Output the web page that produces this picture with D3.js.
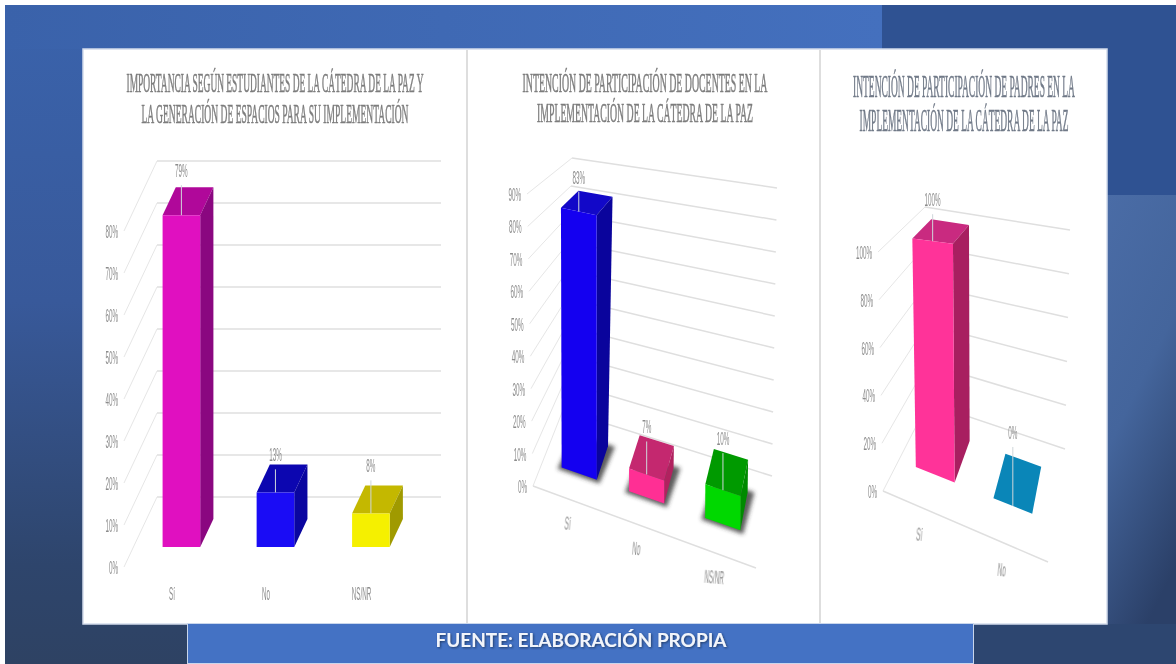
<!DOCTYPE html>
<html>
<head>
<meta charset="utf-8">
<script src="https://d3js.org/d3.v7.min.js"></script>
<style>
  html, body { margin: 0; padding: 0; background: #fff; }
  svg { display: block; }
</style>
</head>
<body>
<div id="chart"></div>
<script>
// data
var titlesEstudiantes = ["IMPORTANCIA SEGÚN ESTUDIANTES DE LA CÁTEDRA DE LA PAZ Y", "LA GENERACIÓN DE ESPACIOS PARA SU IMPLEMENTACIÓN"];
var titlesDocentes = ["INTENCIÓN DE PARTICIPACIÓN DE DOCENTES EN LA", "IMPLEMENTACIÓN DE LA CÁTEDRA DE LA PAZ"];
var titlesPadres = ["INTENCIÓN DE PARTICIPACIÓN DE PADRES EN LA", "IMPLEMENTACIÓN DE LA CÁTEDRA DE LA PAZ"];

var catsEstudiantes = ["Sí", "No", "NS/NR"];
var catsDocentes = ["Sí", "No", "NS/NR"];
var catsPadres = ["Sí", "No"];

var valuesEstudiantes = [79, 13, 8];
var valuesDocentes = [83, 7, 10];
var valuesPadres = [100, 0];

var maxEstudiantes = 80, stepEstudiantes = 10;
var maxDocentes = 90, stepDocentes = 10;
var maxPadres = 100, stepPadres = 20;

var footerText = "FUENTE: ELABORACIÓN PROPIA";

// layout of each 3D frame: box corners as [x, y], named front/back left/right, at floor and at top of axis
var charts = [
  {
    titles: titlesEstudiantes, cats: catsEstudiantes, values: valuesEstudiantes,
    max: maxEstudiantes, step: stepEstudiantes,
    titleX: 275, titleY: [92, 123], titleW: [297, 267], titleSize: 27, titleColor: "#7d7d7d",
    floor: { fl: [124, 567], fr: [408, 567], bl: [157, 497], br: [441, 497] },
    top: { fl: [124, 231], fr: [408, 231], bl: [157, 161], br: [441, 161] },
    range: [0, 1], padIn: 0.6, padOut: 0.31, nudge: [0, 0, 0.005],
    depth: [0.286, 0.686], frontLine: false,
    catOff: [0, 33], catRot: 0,
    labelDy: [45, 38, 48],
    colors: [["#e010c0", "#b0089a", "#8a0780"], ["#1a0cf5", "#0c06b0", "#0a06a0"], ["#f5f000", "#c4b800", "#a09a00"]],
    shadow: false
  },
  {
    titles: titlesDocentes, cats: catsDocentes, values: valuesDocentes,
    max: maxDocentes, step: stepDocentes,
    titleX: 645, titleY: [92, 122], titleW: [245, 216], titleSize: 27, titleColor: "#7d7d7d",
    floor: { fl: [533, 486], fr: [756, 568], bl: [563, 410], br: [772, 476] },
    top: { fl: [527, 194], fr: [757, 245], bl: [572, 158], br: [777, 188] },
    range: [0, 1], padIn: 0.52, padOut: 0.25, nudge: [0.002, -0.025, -0.012],
    depth: [0.33, 0.75], frontLine: true,
    catOff: [-3, 30], catRot: 5,
    labelDy: [35, 48, 52],
    colors: [["#1400f0", "#1208c8", "#0a049c"], ["#ff2f94", "#c4286f", "#b0225f"], ["#00d800", "#009a00", "#008a00"]],
    shadow: true
  },
  {
    titles: titlesPadres, cats: catsPadres, values: valuesPadres,
    max: maxPadres, step: stepPadres,
    titleX: 964, titleY: [97, 131], titleW: [222, 209], titleSize: 32, titleColor: "#717a88",
    floor: { fl: [883, 491], fr: [1048, 562], bl: [928, 403], br: [1065, 449] },
    top: { fl: [878, 252], fr: [1050, 272], bl: [925, 207], br: [1070, 230] },
    range: [-0.015, 0.985], padIn: 0.5, padOut: 0.25, nudge: [0, 0],
    depth: [0.35, 0.78], frontLine: true,
    catOff: [-3, 33], catRot: 5,
    labelDy: [42, 74],
    colors: [["#ff3399", "#c92a80", "#a81f60"], ["#0a86b8", "#0a86b8", "#0a86b8"]],
    shadow: false
  }
];

var width = 1176, height = 664;

var svg = d3.select("#chart").append("svg")
  .attr("width", width)
  .attr("height", height);

var defs = svg.append("defs");

function gradient(id, x2, y2, stops) {
  var g = defs.append("linearGradient").attr("id", id)
    .attr("x1", 0).attr("y1", 0).attr("x2", x2).attr("y2", y2);
  stops.forEach(function(s) {
    g.append("stop").attr("offset", s[0]).attr("stop-color", s[1]);
  });
}
gradient("bgLeft", 0, 1, [[0, "#3a63ac"], [0.45, "#38599a"], [0.85, "#2e456c"], [1, "#2e4263"]]);
gradient("bgTop", 1, 0, [[0, "#3a62aa"], [1, "#4470be"]]);
gradient("bgRight", 0.3, 1, [[0, "#4a6ca6"], [0.5, "#44659c"], [1, "#2b4068"]]);

defs.append("filter").attr("id", "soft")
  .append("feGaussianBlur").attr("stdDeviation", 0.45);
defs.append("filter").attr("id", "floorShadow")
  .attr("x", "-30%").attr("y", "-30%").attr("width", "160%").attr("height", "160%")
  .append("feGaussianBlur").attr("stdDeviation", 2.2);
defs.append("filter").attr("id", "footShadow")
  .append("feDropShadow").attr("dx", 1).attr("dy", 1).attr("stdDeviation", 1)
  .attr("flood-color", "#1c2f55").attr("flood-opacity", 0.8);

// slide background
svg.append("rect").attr("x", 5).attr("y", 5).attr("width", width - 5).attr("height", height - 5).attr("fill", "url(#bgLeft)");
svg.append("rect").attr("x", 5).attr("y", 5).attr("width", 877).attr("height", 44).attr("fill", "url(#bgTop)");
svg.append("rect").attr("x", 882).attr("y", 5).attr("width", 294).attr("height", 190).attr("fill", "#2f5292");
svg.append("rect").attr("x", 1107).attr("y", 195).attr("width", 69).attr("height", 469).attr("fill", "url(#bgRight)");
svg.append("rect").attr("x", 974).attr("y", 624).attr("width", 202).attr("height", 40).attr("fill", "#2d4670");

// white card with the three charts
svg.append("rect").attr("x", 83).attr("y", 49).attr("width", 1024).attr("height", 575)
  .attr("fill", "#fff").attr("stroke", "#d3dcec").attr("stroke-width", 1.5);
[467, 820].forEach(function(x) {
  svg.append("line").attr("x1", x).attr("x2", x).attr("y1", 50).attr("y2", 623)
    .attr("stroke", "#dedede").attr("stroke-width", 2);
});

var pathLine = d3.line();

function face(g, pts, fill) {
  return g.append("path").attr("d", pathLine(pts) + "Z").attr("fill", fill);
}

function squeezed(g, x, y, str, opts) {
  return g.append("text")
    .attr("transform", "translate(" + x + "," + y + ") rotate(" + (opts.rot || 0) + ") scale(0.35,1)")
    .attr("text-anchor", opts.anchor)
    .attr("font-family", "'Liberation Sans', sans-serif")
    .attr("font-size", 18)
    .attr("fill", "#8c8c8c")
    .attr("filter", "url(#soft)")
    .text(str);
}

// horizontally squeezes a centred text so it spans the given width
function fitted(sel, x, y, w) {
  var len = sel.node().getComputedTextLength();
  sel.attr("transform", "translate(" + x + "," + y + ") scale(" + (w / len) + ",1)");
}

charts.forEach(function(c) {
  var g = svg.append("g");

  // maps category position u, depth d and value share v onto the drawn box
  function project(u, d, v) {
    function on(k) {
      return function(i) {
        var front = k.fl[i] + (k.fr[i] - k.fl[i]) * u;
        var back = k.bl[i] + (k.br[i] - k.bl[i]) * u;
        return front + (back - front) * d;
      };
    }
    var lo = on(c.floor), hi = on(c.top);
    return [lo(0) + (hi(0) - lo(0)) * v, lo(1) + (hi(1) - lo(1)) * v];
  }

  var y = d3.scaleLinear().domain([0, c.max]).range([0, 1]);
  var x = d3.scaleBand().domain(c.cats).range(c.range)
    .paddingInner(c.padIn).paddingOuter(c.padOut);

  // title
  c.titles.forEach(function(line, i) {
    var t = g.append("text")
      .attr("text-anchor", "middle")
      .attr("font-family", "'Liberation Serif', serif")
      .attr("font-size", c.titleSize)
      .attr("fill", c.titleColor)
      .attr("stroke", c.titleColor).attr("stroke-width", 0.6)
      .attr("filter", "url(#soft)")
      .text(line);
    fitted(t, c.titleX, c.titleY[i], c.titleW[i]);
  });

  // gridlines on the back wall and the side wall, value labels on the front edge
  var ticks = d3.range(0, c.max + 1, c.step);
  ticks.forEach(function(t) {
    g.append("path").attr("d", pathLine([project(0, 1, y(t)), project(1, 1, y(t))]))
      .attr("fill", "none").attr("stroke", "#dfdfdf").attr("stroke-width", 1.5);
    g.append("path").attr("d", pathLine([project(0, 0, y(t)), project(0, 1, y(t))]))
      .attr("fill", "none").attr("stroke", "#e6e6e6").attr("stroke-width", 1);
    var p = project(0, 0, y(t));
    squeezed(g, p[0] - 6, p[1] + 7, t + "%", { anchor: "end" });
  });

  if (c.frontLine) {
    g.append("path").attr("d", pathLine([project(0, 0, 0), project(1, 0, 0)]))
      .attr("fill", "none").attr("stroke", "#dfdfdf").attr("stroke-width", 1.5);
  }

  // bars
  c.cats.forEach(function(cat, i) {
    var u0 = x(cat) + c.nudge[i], u1 = u0 + x.bandwidth();
    var d0 = c.depth[0], d1 = c.depth[1];
    var v = y(c.values[i]);
    var col = c.colors[i];

    if (c.shadow) {
      face(g.append("g").attr("filter", "url(#floorShadow)"), [
        project(u0 - 0.015, d0 - 0.03, 0), project(u1 + 0.015, d0 - 0.03, 0),
        project(u1 + 0.03, d1 + 0.02, 0), project(u0, d1 + 0.02, 0)
      ], "#333").attr("opacity", 0.8);
    }

    face(g, [project(u0, d1, v), project(u1, d1, v), project(u1, d0, v), project(u0, d0, v)], col[1]);
    face(g, [project(u1, d0, 0), project(u1, d1, 0), project(u1, d1, v), project(u1, d0, v)], col[2]);
    face(g, [project(u0, d0, 0), project(u1, d0, 0), project(u1, d0, v), project(u0, d0, v)], col[0]);

    // data label with its leader line
    var top = project((u0 + u1) / 2, d0, v);
    var dy = c.labelDy[i];
    g.append("line")
      .attr("x1", top[0]).attr("x2", top[0])
      .attr("y1", top[1]).attr("y2", top[1] - dy + 15)
      .attr("stroke", "#cfd6da").attr("stroke-width", 1);
    squeezed(g, top[0], top[1] - dy + 7, c.values[i] + "%", { anchor: "middle" });

    // category label
    var base = project((u0 + u1) / 2, 0, 0);
    squeezed(g, base[0] + c.catOff[0], base[1] + c.catOff[1], cat, { anchor: "middle", rot: c.catRot });
  });
});

// footer box
svg.append("rect").attr("x", 187.5).attr("y", 623.5).attr("width", 786).attr("height", 40)
  .attr("fill", "#4472c4").attr("stroke", "#c9d6ec").attr("stroke-width", 1);
var foot = svg.append("text")
  .attr("text-anchor", "middle")
  .attr("font-family", "Lato, 'Open Sans', sans-serif")
  .attr("font-weight", 700)
  .attr("font-size", 19)
  .attr("fill", "#f2f5fb")
  .attr("filter", "url(#footShadow)")
  .text(footerText);
fitted(foot, 581, 647, 291);
</script>
</body>
</html>
